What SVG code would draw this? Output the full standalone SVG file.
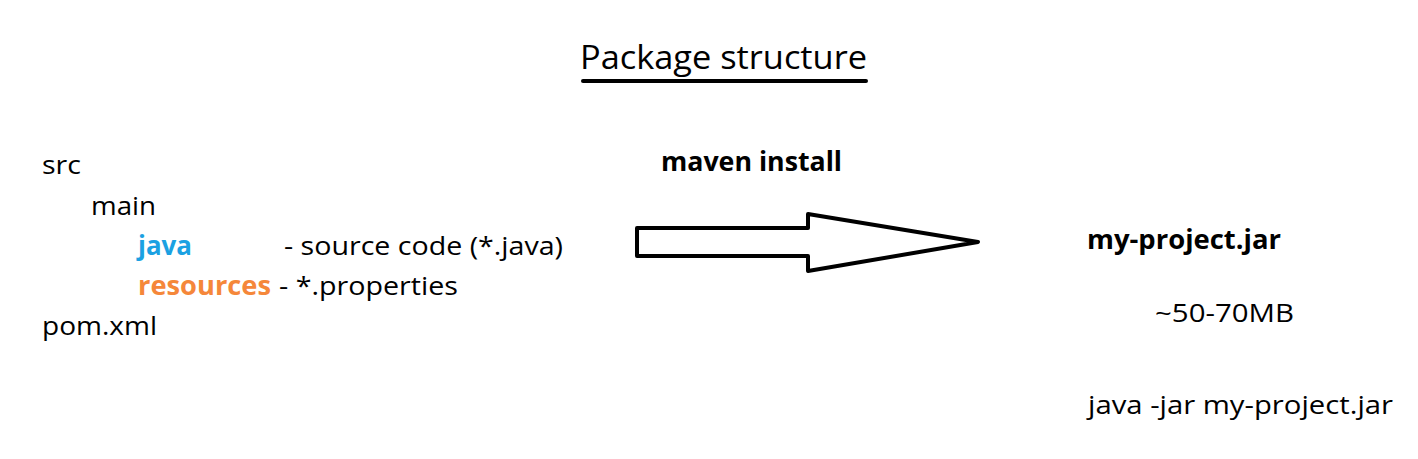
<svg xmlns="http://www.w3.org/2000/svg" width="1418" height="459" viewBox="0 0 1418 459">
<style>
text{font-family:"Open Sans","Noto Sans","Liberation Sans",sans-serif;fill:#000;font-size:26px}
.b{font-weight:bold}
.title{font-size:33px}
.blue{fill:#1ba1e2}
.orange{fill:#f5873a}
</style>
<rect width="1418" height="459" fill="#fff"/>
<g id="title">
<text class="title" x="580" y="69" textLength="287" lengthAdjust="spacingAndGlyphs">Package structure</text>
<line x1="583" y1="81" x2="866" y2="81" stroke="#000" stroke-width="4" stroke-linecap="round"/>
</g>
<g id="tree">
<text x="42" y="174" textLength="39" lengthAdjust="spacingAndGlyphs">src</text>
<text x="91" y="215" textLength="65" lengthAdjust="spacingAndGlyphs">main</text>
<text class="b blue" x="138" y="255" textLength="54" lengthAdjust="spacingAndGlyphs">java</text>
<text x="284" y="255" textLength="279" lengthAdjust="spacingAndGlyphs">- source code (*.java)</text>
<text class="b orange" x="138" y="295" textLength="133" lengthAdjust="spacingAndGlyphs">resources</text>
<text x="279" y="295" textLength="179" lengthAdjust="spacingAndGlyphs">- *.properties</text>
<text x="42" y="335" textLength="115" lengthAdjust="spacingAndGlyphs">pom.xml</text>
</g>
<g id="connectors">
<polygon points="637,228 808,228 808,214 978,242 808,271 808,256 637,256" fill="#fff" stroke="#000" stroke-width="4" stroke-linejoin="round"/>
<text class="b" x="661" y="171" textLength="181" lengthAdjust="spacingAndGlyphs">maven install</text>
</g>
<g id="jar">
<text class="b" x="1087" y="249" textLength="194" lengthAdjust="spacingAndGlyphs">my-project.jar</text>
<text x="1155" y="322" textLength="139" lengthAdjust="spacingAndGlyphs">~50-70MB</text>
<text x="1088" y="414" textLength="305" lengthAdjust="spacingAndGlyphs">java -jar my-project.jar</text>
</g>
</svg>
